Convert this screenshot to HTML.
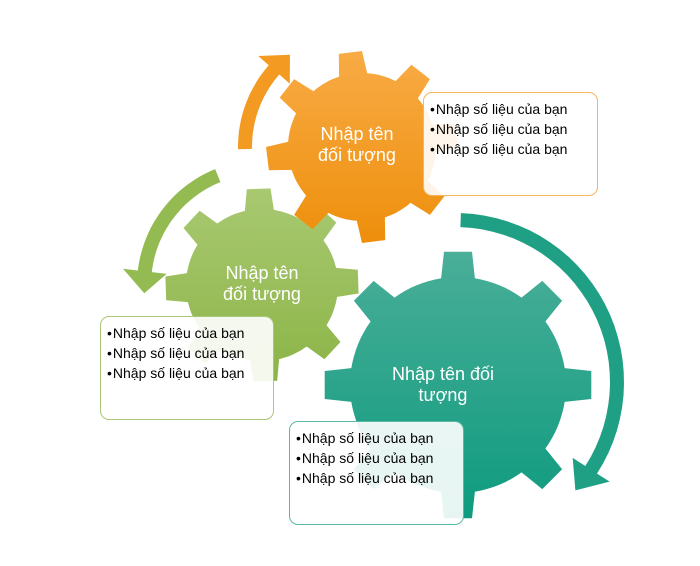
<!DOCTYPE html>
<html><head><meta charset="utf-8">
<style>
html,body{margin:0;padding:0;background:#fff;}
#wrap{position:relative;width:700px;height:566px;overflow:hidden;font-family:"Liberation Sans",sans-serif;}
svg{position:absolute;left:0;top:0;}
.box{position:absolute;box-sizing:border-box;border-radius:9px;background:rgba(255,255,255,0.9);font-size:14px;color:#000;padding:6px 0 0 6px;line-height:20px;white-space:nowrap;}
.box div::before{content:"•";margin-right:1px;}
.t{position:absolute;color:#fff;font-size:18px;line-height:21px;text-align:center;}
</style></head><body>
<div id="wrap">
<svg id="s" width="700" height="566" viewBox="0 0 700 566">
<defs>
<linearGradient id="go" x1="0" y1="0" x2="0" y2="1"><stop offset="0" stop-color="#f8ab45"/><stop offset="1" stop-color="#ee8f0c"/></linearGradient>
<linearGradient id="gg" x1="0" y1="0" x2="0" y2="1"><stop offset="0" stop-color="#a9c972"/><stop offset="1" stop-color="#8cb447"/></linearGradient>
<linearGradient id="gt" x1="0" y1="0" x2="0" y2="1"><stop offset="0" stop-color="#4aae98"/><stop offset="1" stop-color="#0e9b7f"/></linearGradient>
</defs>
<g id="g"></g>
</svg>
<div class="t" style="left:297px;top:124px;width:120px;">Nhập tên<br>đối tượng</div>
<div class="t" style="left:202px;top:263px;width:120px;">Nhập tên<br>đối tượng</div>
<div class="t" style="left:378px;top:364px;width:130px;">Nhập tên đối<br>tượng</div>
<div class="box" style="left:423px;top:92px;width:175px;height:104px;border:1.5px solid #f5b45e;"><div>Nhập số liệu của bạn</div><div>Nhập số liệu của bạn</div><div>Nhập số liệu của bạn</div></div>
<div class="box" style="left:100px;top:316px;width:174px;height:104px;border:1.5px solid #a9c777;"><div>Nhập số liệu của bạn</div><div>Nhập số liệu của bạn</div><div>Nhập số liệu của bạn</div></div>
<div class="box" style="left:289px;top:421px;width:175px;height:104px;border:1.5px solid #5bb8a4;"><div>Nhập số liệu của bạn</div><div>Nhập số liệu của bạn</div><div>Nhập số liệu của bạn</div></div>
</div>
<script>
var g=document.getElementById('g'),NS='http://www.w3.org/2000/svg';
function add(d,f){var p=document.createElementNS(NS,'path');p.setAttribute('d',d);p.setAttribute('fill',f);g.appendChild(p);}
function gear(cx,cy,ri,ro,n,a0,hb,ht,f){
 var pts=[],st=2*Math.PI/n,r=Math.PI/180;
 for(var i=0;i<n;i++){var a=a0*r+i*st;
  pts.push([ri,a-hb*r],[ro,a-ht*r],[ro,a+ht*r],[ri,a+hb*r]);
  for(var k=1;k<8;k++){pts.push([ri,a+hb*r+(st-2*hb*r)*k/8]);}
 }
 var d='';pts.forEach(function(p,j){d+=(j?'L':'M')+(cx+p[0]*Math.cos(p[1])).toFixed(1)+' '+(cy+p[0]*Math.sin(p[1])).toFixed(1);});
 add(d+'Z',f);}
function arrow(cx,cy,r,a1,a2,w,hw,hl,f){
 var R=Math.PI/180,dir=a2>a1?1:-1,ha=hl/r/R,ae=a2-dir*ha,d='',N=30,i,a;
 for(i=0;i<=N;i++){a=(a1+(ae-a1)*i/N)*R;d+=(i?'L':'M')+(cx+(r+w/2)*Math.cos(a)).toFixed(1)+' '+(cy+(r+w/2)*Math.sin(a)).toFixed(1);}
 a=ae*R;d+='L'+(cx+(r+hw)*Math.cos(a))+' '+(cy+(r+hw)*Math.sin(a));
 a=a2*R;d+='L'+(cx+r*Math.cos(a))+' '+(cy+r*Math.sin(a));
 a=ae*R;d+='L'+(cx+(r-hw)*Math.cos(a))+' '+(cy+(r-hw)*Math.sin(a));
 for(i=N;i>=0;i--){a=(a1+(ae-a1)*i/N)*R;d+='L'+(cx+(r-w/2)*Math.cos(a)).toFixed(1)+' '+(cy+(r-w/2)*Math.sin(a)).toFixed(1);}
 add(d+'Z',f);}
gear(458,385,108,134,8,-90,9,6,'url(#gt)');
gear(262,285,76,97,8,-92,11,7,'url(#gg)');
gear(362,147,74,96,8,-97,11,7,'url(#go)');
arrow(455,382,162,-88,42,14,22,26,'#1fa085');
arrow(262,285,118,248,176,14,22,22,'#94bb52');
arrow(362,147,117,179,232,14,21,22,'#f39a22');
</script>
</body></html>
